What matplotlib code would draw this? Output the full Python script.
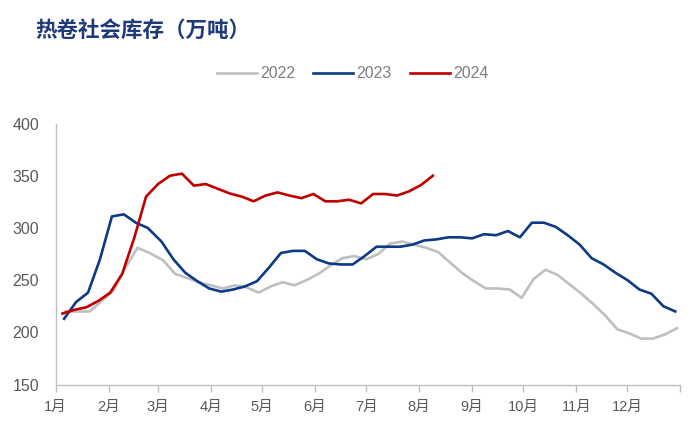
import pandas as pd
import matplotlib
matplotlib.use('Agg')
import matplotlib.pyplot as plt

plt.rcParams['font.family'] = ['Liberation Sans', 'Noto Sans CJK SC']

months = ['1月', '2月', '3月', '4月', '5月', '6月', '7月', '8月', '9月', '10月', '11月', '12月']
years = ['2022', '2023', '2024']
# weekly readings, first Friday of each year
first_day = ['2022-01-07', '2023-01-06', '2024-01-05']
stock_2022 = [220, 220, 220, 230, 240, 262, 281, 276, 269, 256,
              252, 248, 245, 242, 245, 243, 238, 244, 248, 245,
              250, 256, 264, 271, 273, 270, 275, 285, 287, 284,
              281, 277, 267, 257, 249, 242, 242, 241, 233, 251,
              260, 255, 246, 237, 227, 216, 203, 199, 194, 194,
              198, 204]
stock_2023 = [213, 229, 238, 270, 311, 313, 305, 300, 287, 270,
              257, 249, 242, 239, 241, 244, 249, 262, 276, 278,
              278, 270, 266, 265, 265, 273, 282, 282, 282, 284,
              288, 289, 291, 291, 290, 294, 293, 297, 291, 305,
              305, 301, 293, 284, 271, 265, 257, 250, 241, 237,
              225, 220]
stock_2024 = [218, 221.5, 224, 230, 238, 256, 290, 330, 342, 350,
              352, 340.5, 342, 337.5, 333, 330, 325.5, 331, 334, 331,
              328.5, 332.5, 325.5, 325.5, 327, 323.5, 332.5, 332.5, 331, 335,
              341, 350]
colors = ['#bfbfbf', '#0c3a86', '#c00000']


def season_dates(start, n):
    # put every year on the same calendar so the lines overlay
    d = pd.date_range(start, periods=n, freq='7D')
    return [x.replace(year=2000) for x in d]


fig = plt.figure(figsize=(7, 4.34), dpi=100)
ax = fig.add_axes([0.0794, 0.114, 0.8926, 0.6014])

for year, start, values, c in zip(years, first_day, [stock_2022, stock_2023, stock_2024], colors):
    ax.plot(season_dates(start, len(values)), values, color=c, lw=1.9, label=year)

ticks = pd.date_range('2000-01-01', '2001-01-01', freq='MS')
ax.set_xticks(ticks)
ax.set_xticklabels(months + [''])
ax.set_xlim(ticks[0], ticks[-1])
ax.set_ylim(150, 400)
ax.set_yticks(range(150, 401, 50))

for s in ['top', 'right']:
    ax.spines[s].set_visible(False)
for s in ['left', 'bottom']:
    ax.spines[s].set_color('#bfbfbf')
    ax.spines[s].set_linewidth(1.0)
ax.tick_params(axis='x', colors='#bfbfbf', length=5, width=1.0, labelcolor='#595959', labelsize=10.5, pad=6)
ax.tick_params(axis='y', length=0, labelcolor='#595959', labelsize=11.5, pad=12)

fig.text(0.05, 0.929, '热卷社会库存（万吨）', fontsize=15.5, fontweight='bold',
         color='#1f3a78', family=['Noto Sans CJK SC'], va='center', ha='left')

fig.legend(loc='center', bbox_to_anchor=(0.504, 0.83), ncol=3, frameon=False,
           handlelength=2.5, handletextpad=0.2, columnspacing=1.15,
           fontsize=11.5, labelcolor='#7f7f7f')

fig.savefig('out.png', dpi=100)
